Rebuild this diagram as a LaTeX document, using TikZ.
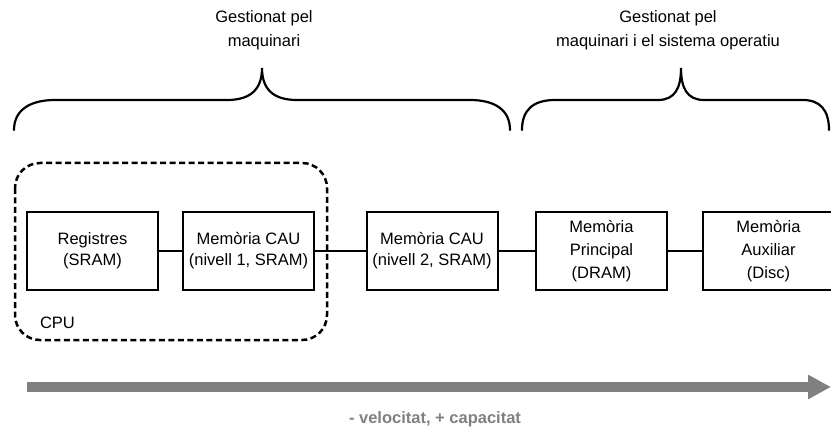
\documentclass[tikz,border=0pt]{standalone}
\usepackage{fontspec}
\setmainfont{Liberation Sans}
\usetikzlibrary{arrows.meta}
\definecolor{bargray}{RGB}{128,128,128}
\tikzset{
  membox/.style={draw=black, line width=2pt, minimum width=131pt, minimum height=78pt,
    inner sep=0pt, align=center, font=\fontsize{16.5}{21}\selectfont},
  membox3/.style={membox, font=\fontsize{16.5}{23}\selectfont},
  link/.style={line width=2pt},
  brace/.style={line width=2.2pt, line cap=round},
  cpubox/.style={draw=black, line width=2.5pt, dash pattern=on 6pt off 3.5pt,
    rounded corners=25pt},
  toplabel/.style={align=center, font=\fontsize{16.5}{24}\selectfont},
}
\begin{document}
\begin{tikzpicture}[x=1pt, y=-1pt]
  \useasboundingbox (0,0) rectangle (831,433);

  % CPU boundary
  \draw[cpubox] (15,163) rectangle (327,340);
  \node[font=\fontsize{16.5}{20}\selectfont] (cpu) at (57.5,323) {CPU};

  % memory hierarchy
  \node[membox] (reg) at (92.5,251) {Registres\\(SRAM)};
  \node[membox] (l1)  at (248.5,251) {Memòria CAU\\(nivell 1, SRAM)};
  \node[membox] (l2)  at (432,251) {Memòria CAU\\(nivell 2, SRAM)};
  \node[membox3] (dram) at (601.5,251) {Memòria\\Principal\\(DRAM)};
  \node[membox3] (disc) at (768.5,251) {Memòria\\Auxiliar\\(Disc)};

  \draw[link] (reg) -- (l1);
  \draw[link] (l1) -- (l2);
  \draw[link] (l2) -- (dram);
  \draw[link] (dram) -- (disc);

  % braces
  \draw[brace] (14,130) .. controls (14,110) and (30,100) .. (55,100)
    -- (227,100) .. controls (252,100) and (262,88) .. (262,68)
    .. controls (262,88) and (272,100) .. (297,100)
    -- (470,100) .. controls (495,100) and (510,110) .. (510,130);
  \draw[brace] (522,130) .. controls (522,110) and (533,100) .. (555,100)
    -- (658,100) .. controls (675,100) and (681,88) .. (681,68)
    .. controls (681,88) and (687,100) .. (704,100)
    -- (803,100) .. controls (820,100) and (829,110) .. (829,130);

  \node[toplabel] (hw) at (264,30) {Gestionat pel\\maquinari};
  \node[toplabel] (hwos) at (668,30) {Gestionat pel\\maquinari i el sistema operatiu};

  % speed / capacity axis
  \coordinate (axs) at (27,387);
  \coordinate (axe) at (831,387);
  \draw[bargray, line width=10pt, -{Triangle[width=23pt,length=23pt]}] (axs) -- (axe);
  \node[text=bargray, font=\bfseries\fontsize{16.5}{18}\selectfont] (axl) at (435,419)
    {- velocitat, + capacitat};
\end{tikzpicture}
\end{document}
